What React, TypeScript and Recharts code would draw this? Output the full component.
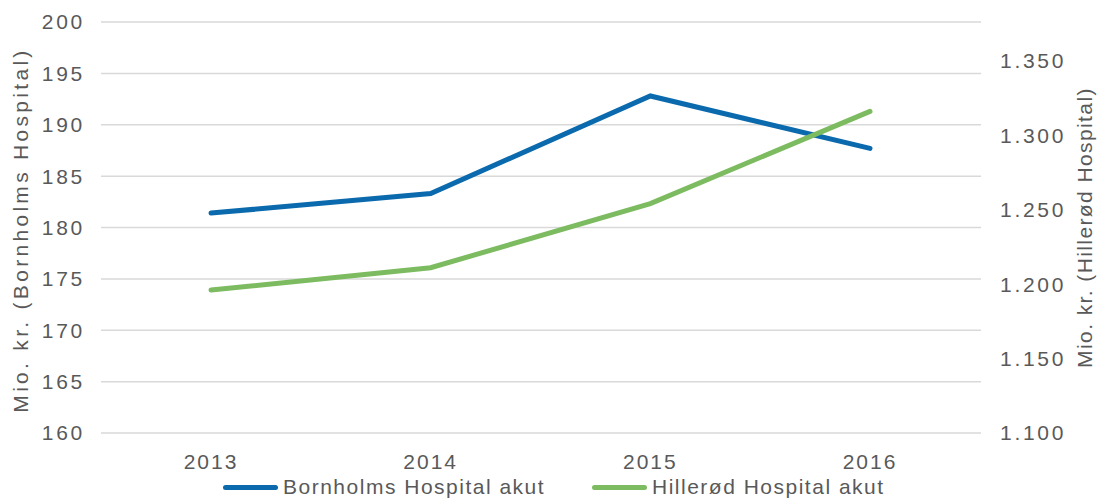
import React from 'react';
import { LineChart, Line, XAxis, YAxis, CartesianGrid, Legend } from 'recharts';

const years = ['2013', '2014', '2015', '2016'];
const bornholm = [181.4, 183.3, 192.8, 187.7];
const hilleroed = [1196, 1211, 1254, 1316];
const leftTicks = [160, 165, 170, 175, 180, 185, 190, 195, 200];
const rightTicks = [1100, 1150, 1200, 1250, 1300, 1350];

const seriesNames = ['Bornholms Hospital akut', 'Hillerød Hospital akut'];
const BLUE = '#0b6aad';
const GREEN = '#7dbb61';
const TEXT = '#595959';
const FONT = '"Liberation Sans", Arial, sans-serif';

const data = years.map((year, i) => ({
  year,
  bornholm: bornholm[i],
  hilleroed: hilleroed[i],
}));

const tickFont = { fontFamily: FONT, fontSize: 21, fill: TEXT, letterSpacing: 2.7 };
const yearFont = { fontFamily: FONT, fontSize: 21, fill: TEXT, letterSpacing: 2 };

// rotated axis title, placed relative to the axis box
const AxisTitle = (props: any) => {
  const { viewBox, value, dx, dy, spacing } = props;
  const x = viewBox.x + dx;
  const y = viewBox.y + viewBox.height / 2 + dy;
  return (
    <text
      x={x}
      y={y}
      transform={`rotate(-90, ${x}, ${y})`}
      textAnchor="middle"
      fill={TEXT}
      fontFamily={FONT}
      fontSize={21}
      letterSpacing={spacing}
    >
      {value}
    </text>
  );
};

const ChartLegend = () => (
  <div style={{ display: 'flex', alignItems: 'center', fontFamily: FONT, fontSize: 21, color: TEXT, lineHeight: '24px', letterSpacing: 1.5 }}>
    {seriesNames.map((name, i) => (
      <div key={name} style={{ display: 'flex', alignItems: 'center', width: 369 }}>
        <div style={{ width: 55, height: 5, borderRadius: 3, background: i === 0 ? BLUE : GREEN, marginRight: 5, flexShrink: 0 }} />
        <span style={{ whiteSpace: 'nowrap' }}>{name}</span>
      </div>
    ))}
  </div>
);

export default function App() {
  return (
    <div style={{ position: 'absolute', left: 0, top: 0, background: '#fff' }}>
      <LineChart width={1099} height={501} data={data} margin={{ top: 22, right: 0, left: 0, bottom: 0 }}>
        <CartesianGrid yAxisId="left" vertical={false} stroke="#d9d9d9" strokeWidth={1.5} />
        <XAxis
          dataKey="year"
          height={68}
          padding={{ left: 110, right: 111 }}
          axisLine={false}
          tickLine={false}
          tickSize={0}
          tickMargin={21}
          tick={yearFont}
        />
        <YAxis
          yAxisId="left"
          width={101}
          domain={[160, 200]}
          ticks={leftTicks}
          axisLine={false}
          tickLine={false}
          tickSize={0}
          tickMargin={16}
          tick={tickFont}
          label={<AxisTitle value="Mio. kr. (Bornholms Hospital)" dx={28} dy={2.5} spacing={3.3} />}
        />
        <YAxis
          yAxisId="right"
          orientation="right"
          width={118}
          domain={[1100, 1376]}
          ticks={rightTicks}
          axisLine={false}
          tickLine={false}
          tickSize={0}
          tickMargin={19}
          tick={tickFont}
          tickFormatter={(v: number) => (v / 1000).toFixed(3)}
          label={<AxisTitle value="Mio. kr. (Hillerød Hospital)" dx={111} dy={0} spacing={1.4} />}
        />
        <Legend
          content={<ChartLegend />}
          wrapperStyle={{ position: 'absolute', left: 223, top: 475, width: 'auto', height: 0 }}
        />
        <Line
          yAxisId="left"
          dataKey="bornholm"
          name={seriesNames[0]}
          stroke={BLUE}
          strokeWidth={5}
          strokeLinecap="round"
          dot={false}
          isAnimationActive={false}
        />
        <Line
          yAxisId="right"
          dataKey="hilleroed"
          name={seriesNames[1]}
          stroke={GREEN}
          strokeWidth={5}
          strokeLinecap="round"
          dot={false}
          isAnimationActive={false}
        />
      </LineChart>
    </div>
  );
}
